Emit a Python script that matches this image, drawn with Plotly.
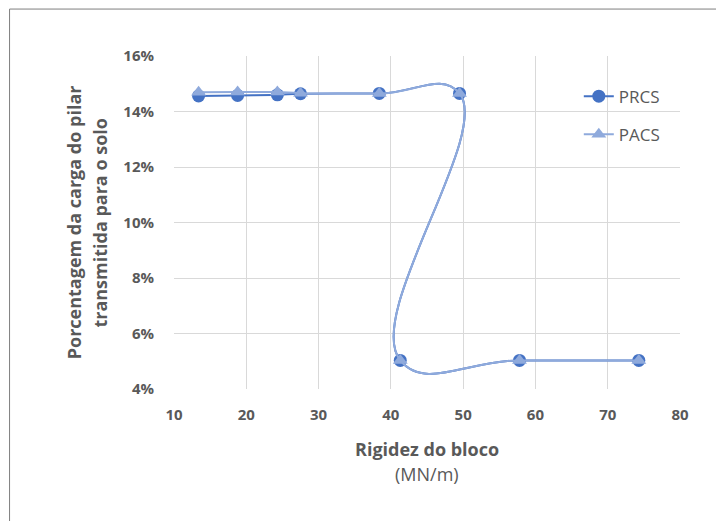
import plotly.graph_objects as go

# Block stiffness (MN/m), in the order the points were measured
rigidez = [13.4, 18.8, 24.3, 27.5, 38.4, 49.5, 41.3, 57.8, 74.3]
# Share of the column load transmitted to the soil (%)
prcs = [14.56, 14.58, 14.60, 14.64, 14.65, 14.65, 5.03, 5.03, 5.03]
pacs = [14.69, 14.70, 14.70, 14.66, 14.65, 14.65, 5.03, 5.03, 5.03]

x_ticks = [10, 20, 30, 40, 50, 60, 70, 80]
y_ticks = [4, 6, 8, 10, 12, 14, 16]

FONT = "Open Sans"
GRAY = "#595959"
GRID = "#d9d9d9"
C_PRCS = "#4472C4"
C_PACS = "#8FAADC"

fig = go.Figure()
fig.add_trace(go.Scatter(
    x=rigidez, y=prcs, name="PRCS", legendgroup="a",
    mode="lines+markers",
    line=dict(color=C_PRCS, width=2, shape="spline", smoothing=1.3),
    marker=dict(symbol="circle", size=13, color=C_PRCS),
))
fig.add_trace(go.Scatter(
    x=rigidez, y=pacs, name="PACS", legendgroup="b",
    mode="lines+markers",
    line=dict(color=C_PACS, width=2, shape="spline", smoothing=1.3),
    marker=dict(symbol="triangle-up", size=13, color=C_PACS),
))

axis_common = dict(
    showgrid=True, gridcolor=GRID, gridwidth=1,
    showline=False, zeroline=False, ticks="",
    tickfont=dict(family=FONT, size=15, color=GRAY, weight="bold"),
)
fig.update_xaxes(range=[10, 80], tickvals=x_ticks, ticklabelstandoff=15,
                 **axis_common)
fig.update_yaxes(range=[4, 16], tickvals=y_ticks,
                 ticktext=[f"{v}%" for v in y_ticks], ticklabelstandoff=19,
                 **axis_common)

fig.update_layout(
    width=716, height=521,
    margin=dict(l=174, r=36, t=56, b=132),
    paper_bgcolor="white", plot_bgcolor="white",
    font=dict(family=FONT, color=GRAY),
    legend=dict(
        x=0.8, y=0.932, xanchor="left", yanchor="top",
        bgcolor="rgba(0,0,0,0)", traceorder="grouped", tracegroupgap=13,
        font=dict(family=FONT, size=17, color=GRAY),
    ),
    annotations=[
        dict(text="<b>Rigidez do bloco</b>", xref="paper", yref="paper",
             x=0.5, y=-0.18, xanchor="center", yanchor="middle",
             showarrow=False, font=dict(family=FONT, size=18, color=GRAY)),
        dict(text="(MN/m)", xref="paper", yref="paper",
             x=0.5, y=-0.255, xanchor="center", yanchor="middle",
             showarrow=False, font=dict(family=FONT, size=18, color=GRAY)),
        dict(text="<b>Porcentagem da carga do pilar</b>", xref="paper", yref="paper",
             x=-0.198, y=0.5, xanchor="center", yanchor="middle", textangle=-90,
             showarrow=False, font=dict(family=FONT, size=18, color=GRAY)),
        dict(text="<b>transmitida para o solo</b>", xref="paper", yref="paper",
             x=-0.148, y=0.5, xanchor="center", yanchor="middle", textangle=-90,
             showarrow=False, font=dict(family=FONT, size=18, color=GRAY)),
    ],
    shapes=[
        dict(type="rect", xref="paper", yref="paper",
             x0=-0.325, x1=1.1, y0=-0.42, y1=1.141,
             line=dict(color="#7f7f7f", width=1), fillcolor="rgba(0,0,0,0)"),
    ],
)

fig.write_html("out.html")
